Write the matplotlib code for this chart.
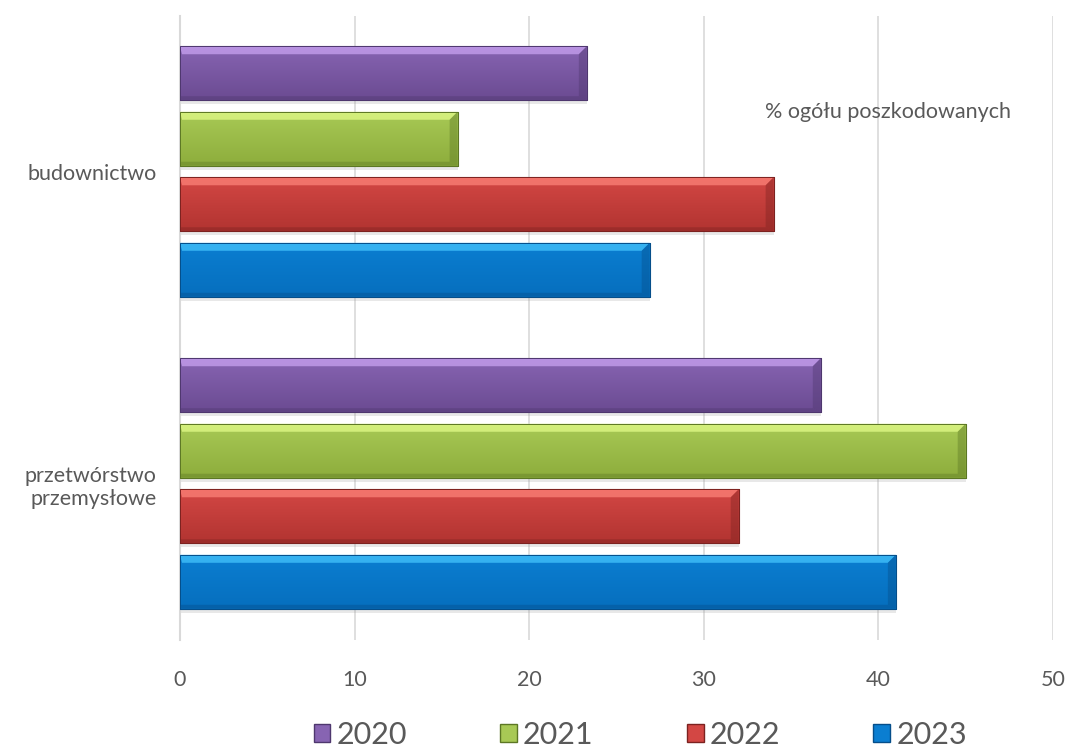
import numpy as np
import matplotlib.pyplot as plt
from matplotlib.patches import Polygon, Rectangle, Patch
from matplotlib.colors import LinearSegmentedColormap

plt.rcParams['font.family'] = ['Lato', 'DejaVu Sans']

categories = ['budownictwo', 'przetwórstwo\nprzemysłowe']
years = ['2020', '2021', '2022', '2023']
values = {
    '2020': [23.3, 36.7],
    '2021': [15.9, 45.0],
    '2022': [34.0, 32.0],
    '2023': [26.9, 41.0],
}
note = '% ogółu poszkodowanych'

# highlight, upper body, lower body, dark edge
palette = {
    '2020': ('#CDA6F5', '#8764B2', '#6B4B92', '#4E376E'),
    '2021': ('#E6FF8C', '#A8C955', '#8DAD3C', '#5C7724'),
    '2022': ('#FF867C', '#D34744', '#B23431', '#7C2220'),
    '2023': ('#48C8FF', '#0B7ED1', '#066FBE', '#054E8A'),
}
text_grey = '#595959'

W, H = 1067, 753
fig = plt.figure(figsize=(W / 100, H / 100), dpi=100)
ax = fig.add_axes([180 / W, 1 - 639.5 / H, 873 / W, 624 / H])

xmax = 50
y = np.arange(len(categories))
step = 0.21
height = 0.173

ax.set_xlim(0, xmax)
ax.set_ylim(len(categories) - 0.5, -0.5)

# pixel -> data conversion for bevel sizes
px_x = xmax / 873
px_y = len(categories) / 624

for i, yr in enumerate(years):
    light, top, bottom, dark = palette[yr]
    bars = ax.barh(y + (i - 1.5) * step, values[yr], height=height,
                   color=top, edgecolor=dark, linewidth=0.8, zorder=3)
    cmap = LinearSegmentedColormap.from_list(yr, [top, bottom])
    for b in bars:
        x0, y0 = b.get_x(), b.get_y()
        x1, y1 = x0 + b.get_width(), y0 + b.get_height()
        # soft drop shadow
        ax.add_patch(Rectangle((x0, y0 + 4 * px_y), b.get_width(), b.get_height(),
                               facecolor='#9a9a9a', alpha=0.22, edgecolor='none',
                               zorder=2))
        # vertical body gradient
        grad = np.linspace(0, 1, 64).reshape(-1, 1)
        im = ax.imshow(grad, extent=(x0, x1, y1, y0), origin='upper',
                       aspect='auto', cmap=cmap, zorder=3.1)
        im.set_clip_path(b)
        dx, dy, dyb = 8 * px_x, 8 * px_y, 4 * px_y
        # top bevel
        ax.add_patch(Polygon([(x0, y0), (x1, y0), (x1 - dx, y0 + dy), (x0 + 2 * px_x, y0 + dy)],
                             closed=True, facecolor=light, alpha=0.7,
                             edgecolor='none', zorder=3.2))
        # right bevel
        ax.add_patch(Polygon([(x1, y0), (x1, y1), (x1 - dx, y1 - dyb), (x1 - dx, y0 + dy)],
                             closed=True, facecolor=dark, alpha=0.4,
                             edgecolor='none', zorder=3.2))
        # bottom bevel
        ax.add_patch(Polygon([(x0, y1), (x1, y1), (x1 - dx, y1 - dyb), (x0, y1 - dyb)],
                             closed=True, facecolor=dark, alpha=0.4,
                             edgecolor='none', zorder=3.2))
        ax.add_patch(Rectangle((x0, y0), b.get_width(), b.get_height(),
                               facecolor='none', edgecolor=dark, linewidth=0.7,
                               zorder=3.3))

ax.set_xlim(0, xmax)
ax.set_ylim(len(categories) - 0.5, -0.5)

ax.set_xticks(np.arange(0, xmax + 1, 10))
ax.set_yticks(y)
ax.set_yticklabels(categories, ha='right', multialignment='right')
ax.tick_params(axis='x', length=0, pad=22, labelsize=15.5, labelcolor=text_grey)
ax.tick_params(axis='y', length=0, pad=17, labelsize=15.5, labelcolor=text_grey)

ax.grid(axis='x', color='#D9D9D9', linewidth=1.2, zorder=0)
ax.set_axisbelow(True)
for side in ['top', 'right', 'bottom']:
    ax.spines[side].set_visible(False)
ax.spines['left'].set_color('#D9D9D9')
ax.spines['left'].set_linewidth(1.5)

ax.text(0.811, 0.845, note, transform=ax.transAxes, ha='center', va='center',
        fontsize=15.5, color=text_grey)

handles = [Patch(facecolor=palette[yr][1], edgecolor=palette[yr][3], label=yr)
           for yr in years]
fig.legend(handles=handles, loc='center', bbox_to_anchor=(0.6, 1 - 735 / H),
           ncol=4, frameon=False, fontsize=22, labelcolor=text_grey,
           handlelength=0.55, handleheight=0.55, handletextpad=0.2,
           columnspacing=3.05, borderpad=0)

fig.savefig('out.png', dpi=100, facecolor='white')
